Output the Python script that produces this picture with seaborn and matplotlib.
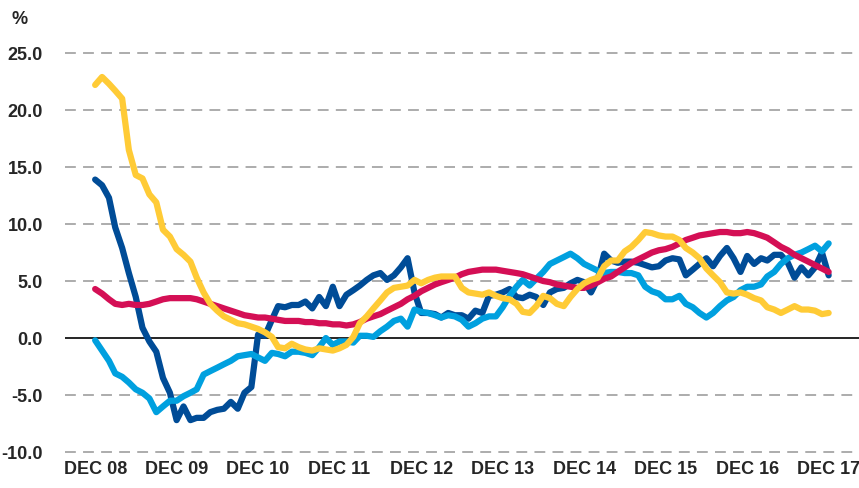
import pandas as pd
import matplotlib.pyplot as plt
import seaborn as sns

# monthly values, Dec 2008 .. Dec 2017 (109 points each)
navy = [13.9, 13.4, 12.3, 9.7, 7.9, 5.7, 3.6, 0.9, -0.3, -1.2,
        -3.5, -4.8, -7.2, -6.0, -7.2, -7.0, -7.0, -6.5, -6.3, -6.2,
        -5.6, -6.2, -4.8, -4.3, 0.3, 0.2, 1.6, 2.8, 2.7, 2.9,
        2.9, 3.2, 2.6, 3.6, 2.8, 4.5, 2.8, 3.8, 4.2, 4.6,
        5.1, 5.5, 5.7, 5.1, 5.5, 6.2, 7.0, 4.0, 2.2, 2.2,
        2.1, 1.8, 2.2, 2.0, 2.0, 1.7, 2.4, 2.2, 3.7, 3.8,
        4.0, 4.3, 3.6, 3.5, 3.8, 3.6, 2.9, 4.0, 4.3, 4.4,
        4.8, 5.1, 4.9, 4.0, 5.2, 7.4, 6.8, 6.6, 6.7, 6.7,
        6.6, 6.4, 6.2, 6.3, 6.8, 7.0, 6.9, 5.5, 6.0, 6.5,
        7.0, 6.3, 7.2, 7.9, 7.0, 5.8, 7.2, 6.5, 7.0, 6.8,
        7.3, 7.3, 6.6, 5.3, 6.2, 5.5, 6.2, 7.5, 5.5]

magenta = [4.3, 3.9, 3.4, 3.0, 2.9, 3.0, 2.9, 2.9, 3.0, 3.2,
           3.4, 3.5, 3.5, 3.5, 3.5, 3.4, 3.2, 3.0, 2.8, 2.6,
           2.4, 2.2, 2.0, 1.9, 1.8, 1.8, 1.7, 1.6, 1.5, 1.5,
           1.5, 1.4, 1.4, 1.3, 1.3, 1.2, 1.2, 1.1, 1.2, 1.4,
           1.7, 1.9, 2.1, 2.4, 2.7, 3.0, 3.4, 3.7, 4.1, 4.4,
           4.7, 4.9, 5.1, 5.3, 5.6, 5.8, 5.9, 6.0, 6.0, 6.0,
           5.9, 5.8, 5.7, 5.6, 5.4, 5.2, 5.0, 4.9, 4.7, 4.6,
           4.5, 4.4, 4.4, 4.6, 4.9, 5.2, 5.4, 5.8, 6.2, 6.6,
           6.9, 7.2, 7.5, 7.7, 7.8, 8.0, 8.3, 8.6, 8.8, 9.0,
           9.1, 9.2, 9.3, 9.3, 9.2, 9.2, 9.3, 9.2, 9.0, 8.8,
           8.4, 8.0, 7.7, 7.3, 7.0, 6.7, 6.4, 6.1, 5.8]

yellow = [22.2, 22.9, 22.3, 21.7, 21.0, 16.5, 14.3, 14.0, 12.6, 11.9,
          9.5, 8.9, 7.8, 7.3, 6.7, 5.3, 4.0, 3.0, 2.4, 1.9,
          1.6, 1.3, 1.2, 1.0, 0.8, 0.5, 0.1, -0.8, -0.9, -0.5,
          -0.8, -1.0, -1.1, -0.9, -1.0, -1.1, -0.9, -0.6, 0.1, 1.3,
          1.9, 2.6, 3.3, 4.0, 4.4, 4.5, 4.6, 5.1, 4.8, 5.1,
          5.3, 5.4, 5.4, 5.4, 4.4, 4.0, 3.9, 3.8, 4.0, 3.7,
          3.5, 3.4, 3.0, 2.3, 2.2, 2.8, 3.7, 3.5, 3.0, 2.8,
          3.6, 4.3, 4.8, 5.1, 5.3, 6.3, 6.8, 6.8, 7.6, 8.0,
          8.6, 9.3, 9.2, 9.0, 8.9, 8.9, 8.6, 7.9, 7.5, 7.0,
          6.1, 5.5, 4.9, 4.0, 3.9, 4.0, 3.8, 3.5, 3.3, 2.7,
          2.5, 2.2, 2.5, 2.8, 2.5, 2.5, 2.4, 2.1, 2.2]

light_blue = [-0.2, -1.1, -2.0, -3.1, -3.4, -3.9, -4.5, -4.8, -5.3, -6.5,
              -6.0, -5.5, -5.5, -5.1, -4.8, -4.5, -3.2, -2.9, -2.6, -2.3,
              -2.0, -1.6, -1.5, -1.4, -1.7, -2.0, -1.3, -1.4, -1.6, -1.2,
              -1.2, -1.3, -1.5, -0.8, 0.0, -0.6, -0.3, -0.3, -0.4, 0.2,
              0.2, 0.1, 0.6, 1.0, 1.5, 1.7, 1.0, 2.5, 2.3, 2.2,
              2.0, 1.8, 2.0, 1.9, 1.6, 1.0, 1.3, 1.7, 1.9, 1.9,
              2.7, 3.7, 4.5, 5.1, 4.6, 5.2, 5.8, 6.5, 6.8, 7.1,
              7.4, 7.0, 6.5, 6.2, 5.9, 5.7, 5.8, 5.8, 5.7, 5.7,
              5.5, 4.5, 4.1, 3.9, 3.4, 3.4, 3.7, 3.0, 2.7, 2.2,
              1.8, 2.2, 2.8, 3.3, 3.6, 4.2, 4.5, 4.5, 4.7, 5.4,
              5.8, 6.5, 7.0, 7.3, 7.5, 7.8, 8.1, 7.6, 8.3]

tick_labels = ["DEC 08", "DEC 09", "DEC 10", "DEC 11", "DEC 12",
               "DEC 13", "DEC 14", "DEC 15", "DEC 16", "DEC 17"]
y_ticks = [-10, -5, 0, 5, 10, 15, 20, 25]

series_colors = {
    "navy": "#004C97",
    "light_blue": "#00A0DF",
    "magenta": "#D40F55",
    "yellow": "#FFCB36",
}


def build_frame():
    months = pd.date_range("2008-12-01", periods=len(navy), freq="MS")
    parts = []
    for name, values in [("navy", navy), ("light_blue", light_blue),
                         ("magenta", magenta), ("yellow", yellow)]:
        parts.append(pd.DataFrame({"month": months, "value": values, "series": name}))
    return pd.concat(parts, ignore_index=True)


def main():
    sns.set_style("white")
    plt.rcParams["font.family"] = ["Liberation Sans", "DejaVu Sans"]

    df = build_frame()

    fig = plt.figure(figsize=(8.59, 4.88), dpi=100)
    ax = fig.add_axes([0.0757, 0.069, 0.9243, 0.827])

    sns.lineplot(data=df, x="month", y="value", hue="series",
                 palette=series_colors, linewidth=4.5, legend=False, ax=ax,
                 solid_capstyle="round", solid_joinstyle="round")

    for v in y_ticks:
        if v == 0:
            ax.axhline(0, color="black", linewidth=1.2, zorder=1)
        else:
            ax.axhline(v, color="#A6A6A6", linewidth=1.3, linestyle=(0, (6, 4)), zorder=0)

    ax.set_ylim(-10.2, 25.2)
    ax.set_xlim(pd.Timestamp("2008-07-19"), pd.Timestamp("2018-04-16"))
    ax.set_yticks(y_ticks)
    ax.set_yticklabels([f"{v:.1f}" for v in y_ticks], fontsize=13, fontweight="bold")
    dec_ticks = pd.date_range("2008-12-01", periods=len(tick_labels), freq="12MS")
    ax.set_xticks(dec_ticks)
    ax.set_xticklabels(tick_labels, fontsize=13, fontweight="bold")
    ax.tick_params(axis="y", length=0, pad=16)
    ax.tick_params(axis="x", length=0, pad=5)
    ax.set_xlabel("")
    ax.set_ylabel("")
    for s in ax.spines.values():
        s.set_visible(False)

    fig.text(12 / 859, 1 - 20 / 488, "%", fontsize=13, fontweight="bold", va="center")

    fig.savefig("out.png", dpi=100)
    plt.close(fig)


if __name__ == "__main__":
    main()
